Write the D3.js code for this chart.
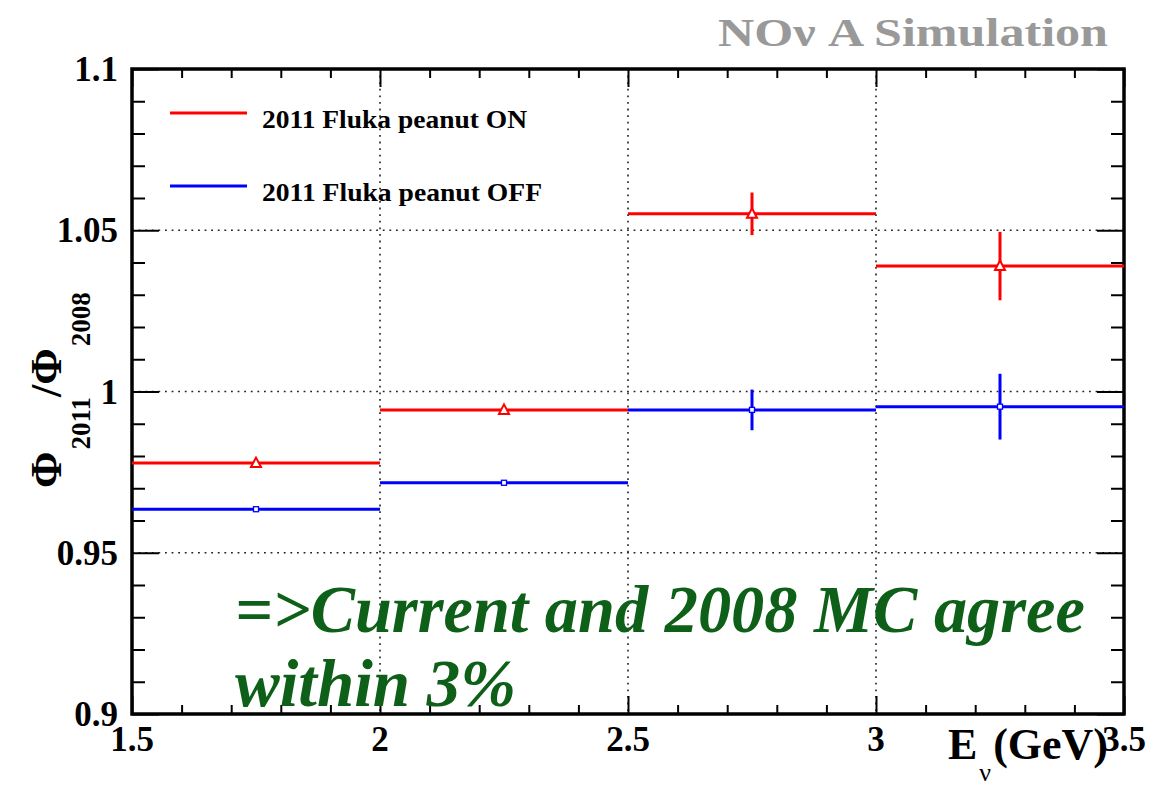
<!DOCTYPE html>
<html>
<head>
<meta charset="utf-8">
<script src="https://cdn.jsdelivr.net/npm/d3@7"></script>
<style>
  html, body { margin: 0; padding: 0; background: #fff; }
  svg { display: block; }
  text { font-family: "Liberation Serif", "Times New Roman", serif; font-weight: bold; }
</style>
</head>
<body>
<svg id="chart" width="1176" height="789"></svg>
<script>
// Flux ratio Φ(2011)/Φ(2008) in 0.5 GeV energy bins
const binEdges = [1.5, 2.0, 2.5, 3.0, 3.5];
const peanutOn = [0.9778, 0.9943, 1.0551, 1.0389];
const peanutOnErr = [0.0005, 0.0010, 0.0066, 0.0106];
const peanutOff = [0.9635, 0.9717, 0.9943, 0.9953];
const peanutOffErr = [0.0005, 0.0007, 0.0063, 0.0102];

const seriesNames = ["2011 Fluka peanut ON", "2011 Fluka peanut OFF"];
const seriesColors = ["#ff0000", "#0000ff"];

const xTicks = [1.5, 2, 2.5, 3, 3.5];
const xTickLabels = ["1.5", "2", "2.5", "3", "3.5"];
const yTicks = [0.9, 0.95, 1.0, 1.05, 1.1];
const yTickLabels = ["0.9", "0.95", "1", "1.05", "1.1"];

const svg = d3.select("#chart");
const padL = 132, padR = 1124, padT = 69, padB = 714;

const x = d3.scaleLinear().domain([1.5, 3.5]).range([padL, padR]);
const y = d3.scaleLinear().domain([0.9, 1.1]).range([padB, padT]);

// dotted grid at the major ticks
const grid = svg.append("g").attr("stroke", "#222").attr("stroke-width", 1.6)
  .attr("stroke-dasharray", "1.8,4.8");
grid.selectAll("line.gx").data(xTicks.slice(1, -1)).join("line")
  .attr("x1", d => x(d)).attr("x2", d => x(d)).attr("y1", padT).attr("y2", padB);
grid.selectAll("line.gy").data(yTicks.slice(1, -1)).join("line")
  .attr("y1", d => y(d)).attr("y2", d => y(d)).attr("x1", padL).attr("x2", padR);

// axes: ticks drawn inward on all four sides
const xMinor = d3.range(15, 36).map(v => v / 10);
const yMinor = d3.range(90, 111).map(v => v / 100);
const isMajorX = v => Math.abs(v * 2 - Math.round(v * 2)) < 1e-6;
const isMajorY = v => Math.abs(v * 20 - Math.round(v * 20)) < 1e-6;

const axB = d3.axisBottom(x).tickValues(xMinor).tickSize(0).tickFormat("");
const axT = d3.axisTop(x).tickValues(xMinor).tickSize(0).tickFormat("");
const axL = d3.axisLeft(y).tickValues(yMinor).tickSize(0).tickFormat("");
const axR = d3.axisRight(y).tickValues(yMinor).tickSize(0).tickFormat("");

function styleAxis(g, kind) {
  g.select(".domain").remove();
  g.selectAll(".tick line").attr("stroke", "#000").attr("stroke-width", 2)
    .each(function (d) {
      const sel = d3.select(this);
      if (kind === "b") sel.attr("y2", -(isMajorX(d) ? 18 : 9));
      if (kind === "t") sel.attr("y2", (isMajorX(d) ? 18 : 9));
      if (kind === "l") sel.attr("x2", (isMajorY(d) ? 27 : 13));
      if (kind === "r") sel.attr("x2", -(isMajorY(d) ? 27 : 13));
    });
}
svg.append("g").attr("transform", `translate(0,${padB})`).call(axB).call(g => styleAxis(g, "b"));
svg.append("g").attr("transform", `translate(0,${padT})`).call(axT).call(g => styleAxis(g, "t"));
svg.append("g").attr("transform", `translate(${padL},0)`).call(axL).call(g => styleAxis(g, "l"));
svg.append("g").attr("transform", `translate(${padR},0)`).call(axR).call(g => styleAxis(g, "r"));

// frame
svg.append("rect").attr("x", padL).attr("y", padT).attr("width", padR - padL).attr("height", padB - padT)
  .attr("fill", "none").attr("stroke", "#000").attr("stroke-width", 3.5);

// tick labels
svg.append("g").selectAll("text").data(xTicks).join("text")
  .attr("x", d => x(d)).attr("y", padB + 37).attr("text-anchor", "middle")
  .attr("font-size", 35).text((d, i) => xTickLabels[i]);
svg.append("g").selectAll("text").data(yTicks).join("text")
  .attr("x", padL - 14).attr("y", d => y(d) + 12).attr("text-anchor", "end")
  .attr("font-size", 35).text((d, i) => yTickLabels[i]);

// histogram series with error bars
const series = [
  { vals: peanutOn, errs: peanutOnErr, color: seriesColors[0], marker: "tri" },
  { vals: peanutOff, errs: peanutOffErr, color: seriesColors[1], marker: "sq" }
];
series.forEach(s => {
  const g = svg.append("g");
  const bins = s.vals.map((v, i) => ({ lo: binEdges[i], hi: binEdges[i + 1], v, e: s.errs[i] }));
  g.selectAll("line.h").data(bins).join("line")
    .attr("x1", d => x(d.lo)).attr("x2", d => x(d.hi))
    .attr("y1", d => y(d.v)).attr("y2", d => y(d.v))
    .attr("stroke", s.color).attr("stroke-width", 3);
  g.selectAll("line.v").data(bins).join("line")
    .attr("x1", d => x((d.lo + d.hi) / 2)).attr("x2", d => x((d.lo + d.hi) / 2))
    .attr("y1", d => y(d.v - d.e)).attr("y2", d => y(d.v + d.e))
    .attr("stroke", s.color).attr("stroke-width", 3);
  if (s.marker === "tri") {
    g.selectAll("path").data(bins).join("path")
      .attr("transform", d => `translate(${x((d.lo + d.hi) / 2)},${y(d.v)})`)
      .attr("d", "M0,-5.5L5,4L-5,4Z")
      .attr("fill", "#fff").attr("stroke", s.color).attr("stroke-width", 2);
  } else {
    g.selectAll("rect").data(bins).join("rect")
      .attr("x", d => x((d.lo + d.hi) / 2) - 2.5).attr("y", d => y(d.v) - 2.5)
      .attr("width", 5).attr("height", 5)
      .attr("fill", "#fff").attr("stroke", s.color).attr("stroke-width", 1.3);
  }
});

// legend
const legend = svg.append("g");
const legendWidths = [265, 280];
seriesNames.forEach((name, i) => {
  const ly = 113 + i * 73;
  legend.append("line").attr("x1", 170).attr("x2", 247).attr("y1", ly).attr("y2", ly)
    .attr("stroke", seriesColors[i]).attr("stroke-width", 3);
  legend.append("text").attr("x", 262).attr("y", ly + 15).attr("font-size", 26)
    .attr("textLength", legendWidths[i]).attr("lengthAdjust", "spacingAndGlyphs").text(name);
});

// axis titles
const yt = svg.append("text").attr("transform", "translate(61,488) rotate(-90)").attr("font-size", 44);
yt.append("tspan").text("Φ");
yt.append("tspan").attr("font-size", 27).attr("dy", 29).attr("dx", 2).text("2011");
yt.append("tspan").attr("dy", -29).text("/Φ");
yt.append("tspan").attr("font-size", 27).attr("dy", 29).attr("dx", 2).text("2008");

const xt = svg.append("text").attr("x", 948).attr("y", 759).attr("font-size", 44);
xt.append("tspan").text("E");
xt.append("tspan").attr("font-size", 26).attr("font-weight", "normal").attr("dy", 22).attr("dx", 2).text("ν");
xt.append("tspan").attr("dy", -22).attr("dx", 2).text("(GeV)");

// watermark
svg.append("text").attr("x", 718).attr("y", 46)
  .attr("font-size", 39).attr("fill", "#999")
  .attr("textLength", 390).attr("lengthAdjust", "spacingAndGlyphs")
  .text("NOν A Simulation");

// annotation
const note = svg.append("g").attr("fill", "#0e5f18").attr("font-style", "italic").attr("font-size", 67);
note.append("text").attr("x", 235).attr("y", 632)
  .attr("textLength", 850).attr("lengthAdjust", "spacingAndGlyphs").text("=>Current and 2008 MC agree");
note.append("text").attr("x", 235).attr("y", 706).text("within 3%");
</script>
</body>
</html>
